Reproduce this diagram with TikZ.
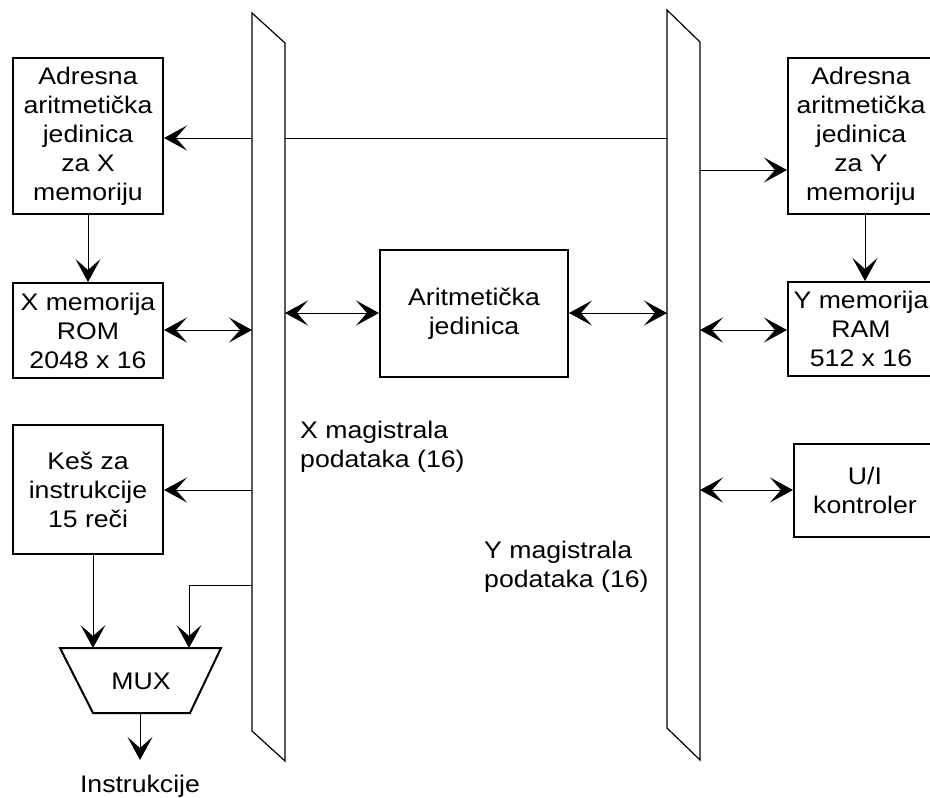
\documentclass[tikz,border=0pt]{standalone}
\usepackage{fontspec}
\setmainfont{Liberation Sans}[FakeStretch=1.11]
\usetikzlibrary{arrows.meta}
\begin{document}
\begin{tikzpicture}[x=1pt,y=-1pt,
  font=\fontsize{24}{29}\selectfont,
  box/.style={draw, line width=2pt, align=center, inner sep=0pt},
  link/.style={line width=1pt},
  bus/.style={line width=1.2pt},
  head/.tip={Stealth[length=23pt,width=25pt,inset=11pt]},
  tip/.style={link, -head},
  both/.style={link, head-head},
  buslabel/.style={align=left, inner sep=0pt, anchor=north west}
]
\useasboundingbox (0,0) rectangle (930,798);
\clip (0,0) rectangle (930,798);

% data buses
\draw[bus] (252,13) -- (285,43) -- (285,761) -- (252,731) -- cycle;
\draw[bus] (667,10) -- (700,42) -- (700,760) -- (667,728) -- cycle;

% tap points on the X bus
\coordinate (xa) at (252,138);
\coordinate (xr) at (285,138);
\coordinate (xm-l) at (252,330);
\coordinate (xar) at (285,313);
\coordinate (xk) at (252,490);
\coordinate (xmux) at (252,585);
% tap points on the Y bus
\coordinate (yl) at (667,138);
\coordinate (ya) at (700,170);
\coordinate (yar) at (667,313);
\coordinate (ym-r) at (700,330);
\coordinate (yui) at (700,490);

% blocks
\node[box, minimum width=150pt, minimum height=156pt] (ax) at (88,136)
  {Adresna\\aritmetička\\jedinica\\za X\\memoriju};
\node[box, minimum width=150pt, minimum height=95pt] (xm) at (88,330.5)
  {X memorija\\ROM\\2048 x 16};
\node[box, minimum width=150pt, minimum height=129pt] (kes) at (88,489.5)
  {Keš za\\instrukcije\\15 reči};
\node[box, minimum width=188pt, minimum height=127pt] (ar) at (474,313.5)
  {Aritmetička\\jedinica};
\node[box, minimum width=146pt, minimum height=156pt] (ay) at (861,136)
  {Adresna\\aritmetička\\jedinica\\za Y\\memoriju};
\node[box, minimum width=146pt, minimum height=94pt] (ym) at (861,329)
  {Y memorija\\RAM\\512 x 16};
\node[box, minimum width=142pt, minimum height=93pt] (ui) at (865,490.5)
  {U/I\\kontroler};

% multiplexer
\draw[line width=2pt] (60,648) -- (221,648) -- (190,713) -- (93,713) -- cycle;
\node (mux) at (141,681) {MUX};
\coordinate (muxa) at (93,648);
\coordinate (muxb) at (189,648);
\coordinate (muxo) at (140,713);
\node[inner sep=0pt, anchor=base] (instr) at (140,792) {Instrukcije};

% bus labels
\node[buslabel] (xlab) at (300,420.5) {X magistrala\\podataka (16)};
\node[buslabel] (ylab) at (484,541) {Y magistrala\\podataka (16)};

% connections
\draw[link] (yl) -- (xr);
\draw[tip] (xa) -- (xa -| ax.east);
\draw[tip] (ya) -- (ya -| ay.west);
\draw[tip] (ax.south) -- (xm.north);
\draw[tip] (ay.south -| 865,0) -- (ym.north -| 865,0);
\draw[both] (xm.east |- xm-l) -- (xm-l);
\draw[both] (xar) -- (xar -| ar.west);
\draw[both] (yar -| ar.east) -- (yar);
\draw[both] (ym-r) -- (ym-r -| ym.west);
\draw[tip] (xk) -- (xk -| kes.east);
\draw[both] (yui) -- (yui -| ui.west);
\draw[tip] (kes.south -| muxa) -- (muxa);
\draw[tip] (xmux) -- (xmux -| muxb) -- (muxb);
\draw[tip] (muxo) -- (140,760);
\end{tikzpicture}
\end{document}
